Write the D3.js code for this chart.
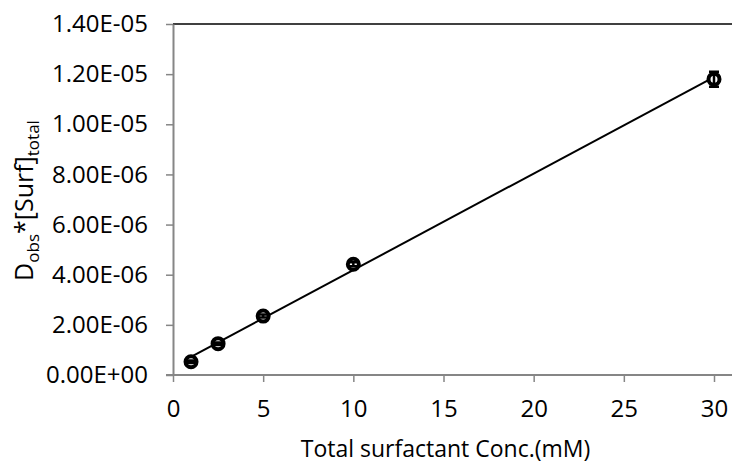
<!DOCTYPE html>
<html>
<head>
<meta charset="utf-8">
<script src="https://d3js.org/d3.v7.min.js"></script>
<style>
  body { margin: 0; background: #fff; }
  text { font-family: "Open Sans", "Noto Sans", sans-serif; fill: #000; }
</style>
</head>
<body>
<div id="my_dataviz"></div>
<script>

// data
var conc = [1, 2.5, 5, 10, 30];                              // mM
var dSurf = [5.3e-7, 1.25e-6, 2.35e-6, 4.42e-6, 1.18e-5];     // D_obs*[Surf]_total
var errBar = [5e-8, 5e-8, 6e-8, 8e-8, 3e-7];
var xTicks = [0, 5, 10, 15, 20, 25, 30];
var yTicks = [0, 2e-6, 4e-6, 6e-6, 8e-6, 1e-5, 1.2e-5, 1.4e-5];

var W = 732, H = 463;
var margin = {top: 24, right: 15, bottom: 88, left: 173};
var width = W - margin.left - margin.right,
    height = H - margin.top - margin.bottom;

var svg = d3.select("#my_dataviz")
  .append("svg")
    .attr("width", W)
    .attr("height", H)
  .append("g")
    .attr("transform", "translate(" + margin.left + "," + margin.top + ")");

var x = d3.scaleLinear().domain([0, 30]).range([0, width - 3]);
var y = d3.scaleLinear().domain([0, 1.4e-5]).range([height, 0]);

// top border of plot area
svg.append("line")
  .attr("x1", 0).attr("x2", W - margin.left)
  .attr("y1", y(1.4e-5)).attr("y2", y(1.4e-5))
  .attr("stroke", "#000").attr("stroke-width", 1.5);

// x axis
var xa = svg.append("g")
  .attr("transform", "translate(0," + height + ")")
  .call(d3.axisBottom(x).tickValues(xTicks).tickSize(7).tickPadding(18).tickSizeOuter(0));
xa.select(".domain").attr("stroke", "#868686").attr("stroke-width", 2)
  .attr("d", "M-7,0H" + (W - margin.left));
xa.selectAll(".tick line").attr("stroke", "#868686").attr("stroke-width", 1.5);
xa.selectAll(".tick text").style("font-size", "24px").style("font-family", "Open Sans");

// y axis
var ya = svg.append("g")
  .call(d3.axisLeft(y).tickValues(yTicks).tickSize(7).tickPadding(18).tickSizeOuter(0)
    .tickFormat(function(d) {
      return d.toExponential(2).toUpperCase().replace(/E([+-])(\d)$/, "E$10$2");
    }));
ya.select(".domain").attr("stroke", "#868686").attr("stroke-width", 2);
ya.selectAll(".tick line").attr("stroke", "#868686").attr("stroke-width", 1.5);
ya.selectAll(".tick text").style("font-size", "24px").style("font-family", "Open Sans");

// linear trend line (least squares over the points)
var mx = d3.mean(conc), my = d3.mean(dSurf);
var slope = d3.sum(conc, function(c, i) { return (c - mx) * (dSurf[i] - my); }) /
            d3.sum(conc, function(c) { return (c - mx) * (c - mx); });
var icpt = my - slope * mx;
var xr = d3.extent(conc);
svg.append("line")
  .attr("x1", x(xr[0])).attr("y1", y(icpt + slope * xr[0]))
  .attr("x2", x(xr[1])).attr("y2", y(icpt + slope * xr[1]))
  .attr("stroke", "#000").attr("stroke-width", 2);

var pts = conc.map(function(c, i) { return {x: c, y: dSurf[i], e: errBar[i]}; });

// markers
svg.selectAll("mark")
  .data(pts)
  .enter()
  .append("circle")
    .attr("cx", function(d) { return x(d.x); })
    .attr("cy", function(d) { return y(d.y); })
    .attr("r", 5.5)
    .attr("fill", "#fff")
    .attr("stroke", "#000")
    .attr("stroke-width", 4);

// error bars
svg.selectAll("err")
  .data(pts)
  .enter()
  .append("path")
    .attr("d", function(d) {
      var cx = x(d.x), y1 = y(d.y + d.e), y2 = y(d.y - d.e);
      return "M" + (cx - 5) + "," + y1 + "H" + (cx + 5) +
             "M" + cx + "," + y1 + "V" + y2 +
             "M" + (cx - 5) + "," + y2 + "H" + (cx + 5);
    })
    .attr("fill", "none")
    .attr("stroke", "#000")
    .attr("stroke-width", 2.5);

// axis titles
svg.append("text")
  .attr("x", (x(0) + x(30)) / 2 + 2)
  .attr("y", height + 82)
  .attr("text-anchor", "middle")
  .style("font-size", "23px")
  .text("Total surfactant Conc.(mM)");

var yl = svg.append("text")
  .attr("transform", "translate(" + (-140) + "," + (height / 2 + 1) + ") rotate(-90)")
  .attr("text-anchor", "middle")
  .style("font-size", "25px");
yl.append("tspan").text("D");
yl.append("tspan").attr("dy", 6).style("font-size", "17px").text("obs");
yl.append("tspan").attr("dy", -6).text("*[Surf]");
yl.append("tspan").attr("dy", 6).style("font-size", "17px").text("total");

</script>
</body>
</html>
